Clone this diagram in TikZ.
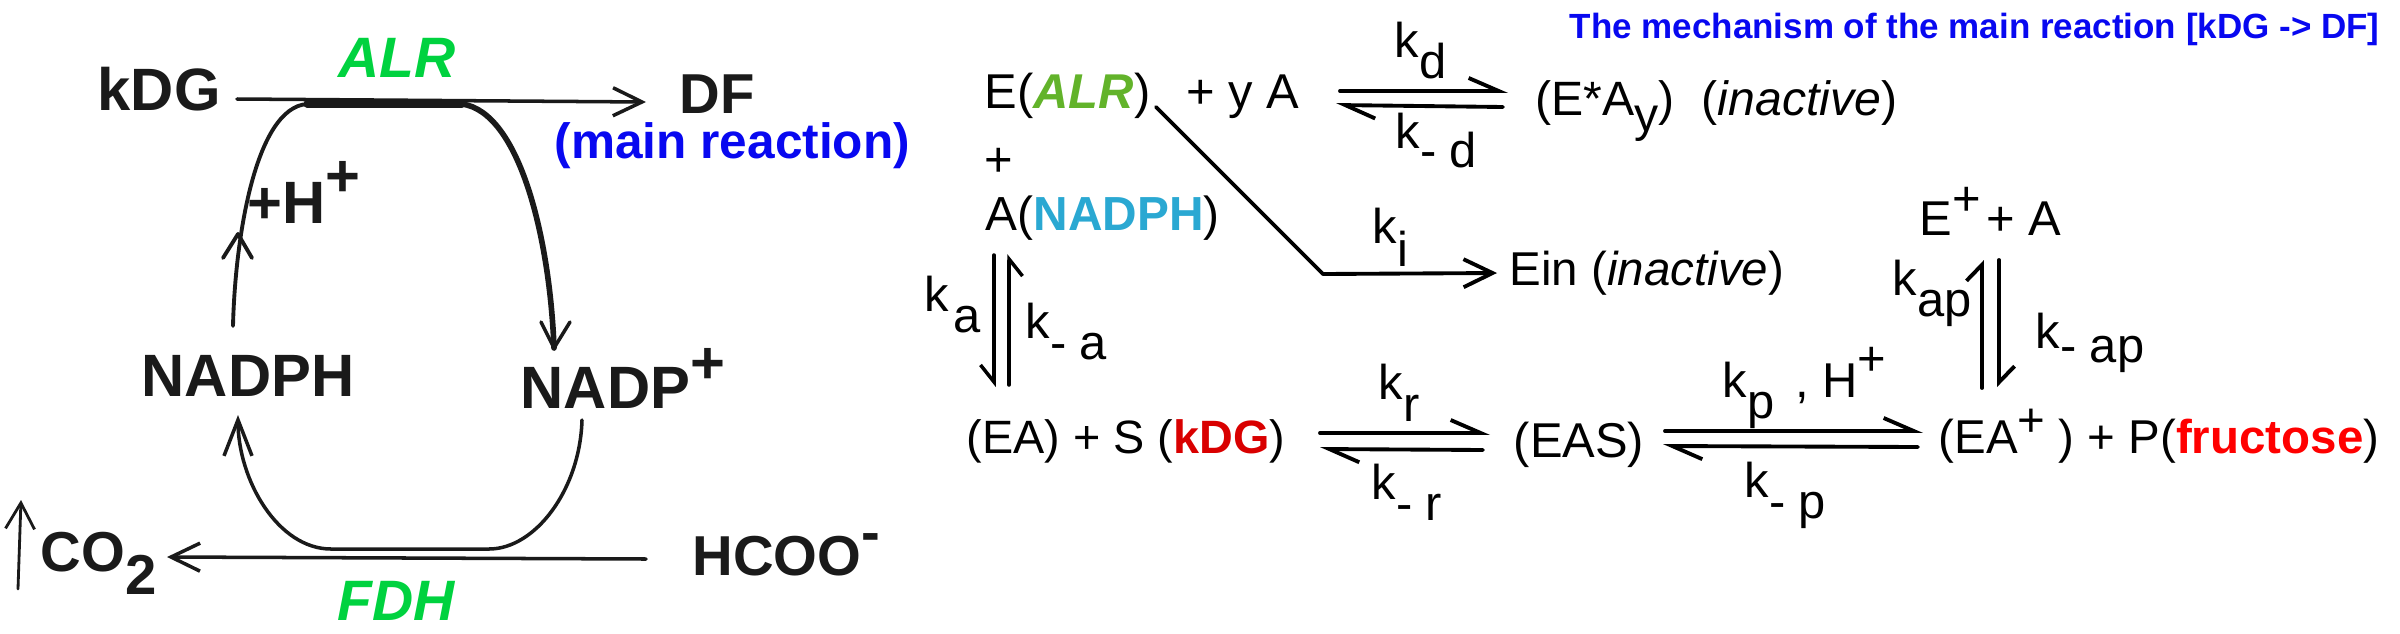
\documentclass[tikz,border=0pt]{standalone}
\usepackage{fontspec}
\setmainfont{Liberation Sans}
\usetikzlibrary{arrows.meta}
\definecolor{enzgreen}{HTML}{00D23F}
\definecolor{alrgreen}{HTML}{62B32A}
\definecolor{nadblue}{HTML}{2AA8D2}
\definecolor{kdgred}{HTML}{D90000}
\definecolor{mainblue}{HTML}{0808F0}
\definecolor{inkblack}{HTML}{1A1A1A}
\newcommand{\dn}[2][6pt]{\raisebox{-#1}{#2}}
\newcommand{\up}[2][6pt]{\raisebox{#1}{#2}}
\tikzset{
  bigtxt/.style={font=\fontsize{#1}{20}\selectfont\bfseries,text=inkblack,anchor=base west,inner sep=0pt},
  bigtxt/.default=17,
  enztxt/.style={font=\fontsize{16.2}{20}\selectfont\bfseries\itshape,text=enzgreen,anchor=base west,inner sep=0pt},
  midtxt/.style={font=\fontsize{#1}{16}\selectfont,anchor=base west,inner sep=0pt},
  midtxt/.default=13.9,
  harp/.style={line width=1.1pt,-{Straight Barb[left,length=.3cm,width=.26cm]}},
  harpr/.style={line width=1pt,-{Straight Barb[right,length=.17cm,width=.27cm]}},
  harpl/.style={line width=1.1pt,-{Straight Barb[left,length=.16cm,width=.31cm]}},
  rxn/.style={line width=1pt,inkblack,-{Straight Barb[length=.29cm,width=.28cm]}},
}
\begin{document}
\begin{tikzpicture}[x=0.01cm,y=-0.01cm,line join=round,line cap=round]
\useasboundingbox (0,0) rectangle (2400,633);
% cycle
\node[bigtxt] (kdg) at (97,110) {kDG};
\node[bigtxt=16] (df) at (679,113) {DF};
\node[enztxt] (alr) at (338,77) {ALR};
\node[bigtxt=14.1,text=mainblue] (mainrx) at (554,158) {(main reaction)};
\node[bigtxt] (hplus) at (247,223) {+H\up[7.5pt]{+}};
\node[bigtxt] (nadph) at (141,396) {NADPH};
\node[bigtxt] (nadpplus) at (520,408) {NADP\up[7pt]{+}};
\node[bigtxt=16] (hcoo) at (692,575) {HCOO\up[6.8pt]{-}};
\node[bigtxt=16] (co2) at (40,571) {CO\dn[6.8pt]{2}};
\node[enztxt] (fdh) at (337,620) {FDH};
\coordinate (capl) at (307,104);
\coordinate (capr) at (462,104);
\coordinate (headl) at (238,234);
\coordinate (barbla) at (223,258);
\coordinate (barblb) at (252,258);
\coordinate (barbra) at (541,322);
\coordinate (barbrb) at (570,322);
\draw[rxn] ([shift={(140,-11)}]kdg.base west)--([shift={(-33,-11)}]df.base west);
\draw[line width=2pt,inkblack] (capl)--(capr);
\draw[line width=1.1pt,inkblack] ([shift={(92,-70)}]nadph.base west) .. controls (235,240) and (255,108) .. (capl);
\draw[line width=1.1pt,inkblack] (barbla)--(headl)--(barblb);
\draw[line width=1.6pt,inkblack] (capr) .. controls (520,112) and (550,240) .. ([shift={(34,-60)}]nadpplus.base west);
\draw[line width=1pt,inkblack] (barbra)--([shift={(34,-60)}]nadpplus.base west)--(barbrb);
\draw[line width=1pt,inkblack,-{Straight Barb[length=.36cm,width=.28cm]}] ([shift={(62,12)}]nadpplus.base west) .. controls (580,490) and (535,549) .. (489,549)--(331,549) .. controls (278,549) and (238,480) .. ([shift={(97,19)}]nadph.base west);
\draw[rxn] ([shift={(-46,-16)}]hcoo.base west)--([shift={(127,-14)}]co2.base west);
\draw[line width=.8pt,inkblack,-{Straight Barb[length=.26cm,width=.29cm]}] ([shift={(-22,18)}]co2.base west)--([shift={(-19,-71)}]co2.base west);
% mechanism
\node[anchor=base west,inner sep=0pt,text=mainblue,font=\fontsize{9.95}{11}\selectfont\bfseries] (title) at (1569,38) {The mechanism of the main reaction [kDG -> DF]};
\node[midtxt] (ealr) at (984,108) {E(\textcolor{alrgreen}{\textbf{\textit{ALR}}})};
\node[midtxt] (plusya) at (1186,108) {+ y A};
\node[midtxt] (kd) at (1394,57) {k\dn{d}};
\node[midtxt] (kmd) at (1395,148) {k\dn[5.5pt]{- d}};
\node[midtxt=13.7] (eay) at (1535,115) {(E*A\dn[4.8pt]{y})\ \ (\textit{inactive})};
\node[midtxt] (plusa) at (984,176) {+};
\node[midtxt=13.6] (nad) at (985,230) {A(\textcolor{nadblue}{\textbf{NADPH}})};
\node[midtxt] (ki) at (1372,243) {k\dn[6.8pt]{i}};
\node[midtxt=13.5] (ein) at (1509,285) {Ein (\textit{inactive})};
\node[midtxt] (eplusa) at (1919,235) {E\up[5.6pt]{+}\hspace{-2.3pt} + A};
\node[midtxt] (ka) at (924,311) {k\hspace{1.2pt}\dn[6.2pt]{a}};
\node[midtxt] (kma) at (1025,338) {k\dn[6.2pt]{- a}};
\node[midtxt] (kap) at (1892,295) {k\dn[6.2pt]{ap}};
\node[midtxt] (kmap) at (2035,348) {k\dn[4pt]{- ap}};
\node[midtxt] (kr) at (1378,399) {k\dn[6.5pt]{r}};
\node[midtxt] (kmr) at (1371,499) {k\dn[6.2pt]{- r}};
\node[midtxt] (kp) at (1722,397) {k\dn{p}\hspace{6pt}, H\up[6.2pt]{+}};
\node[midtxt] (kmp) at (1744,497) {k\dn{- p}};
\node[midtxt=13.3] (eas0) at (966,453) {(EA) + S (\textcolor{kdgred}{\textbf{kDG}})};
\node[midtxt] (eas) at (1513,457) {(EAS)};
\node[midtxt=13.5] (eap) at (1938,453) {(EA\up[4.8pt]{+} ) + P(\textcolor{red}{\textbf{fructose}})};
\coordinate (einbend) at (1323,274);
\draw[harp] ([shift={(154,-17)}]plusya.base west)--([shift={(-27,-24)}]eay.base west);
\draw[harp] ([shift={(-32,-8)}]eay.base west)--([shift={(150,-3)}]plusya.base west);
\draw[rxn,line width=1.1pt,black] ([shift={(172,-1)}]ealr.base west)--(einbend)--([shift={(-12,-12)}]ein.base west);
\draw[harpr] ([shift={(9,25)}]nad.base west)--([shift={(28,-66)}]eas0.base west);
\draw[harpr] ([shift={(43,-68)}]eas0.base west)--([shift={(24,24)}]nad.base west);
\draw[harpl] ([shift={(44,-65)}]eap.base west)--([shift={(63,25)}]eplusa.base west);
\draw[harpl] ([shift={(80,25)}]eplusa.base west)--([shift={(61,-66)}]eap.base west);
\draw[harp] ([shift={(354,-20)}]eas0.base west)--([shift={(-23,-24)}]eas.base west);
\draw[harp] ([shift={(-30,-7)}]eas.base west)--([shift={(354,-4)}]eas0.base west);
\draw[harp] ([shift={(152,-26)}]eas.base west)--([shift={(-15,-22)}]eap.base west);
\draw[harp] ([shift={(-20,-6)}]eap.base west)--([shift={(150,-11)}]eas.base west);
\end{tikzpicture}
\end{document}
